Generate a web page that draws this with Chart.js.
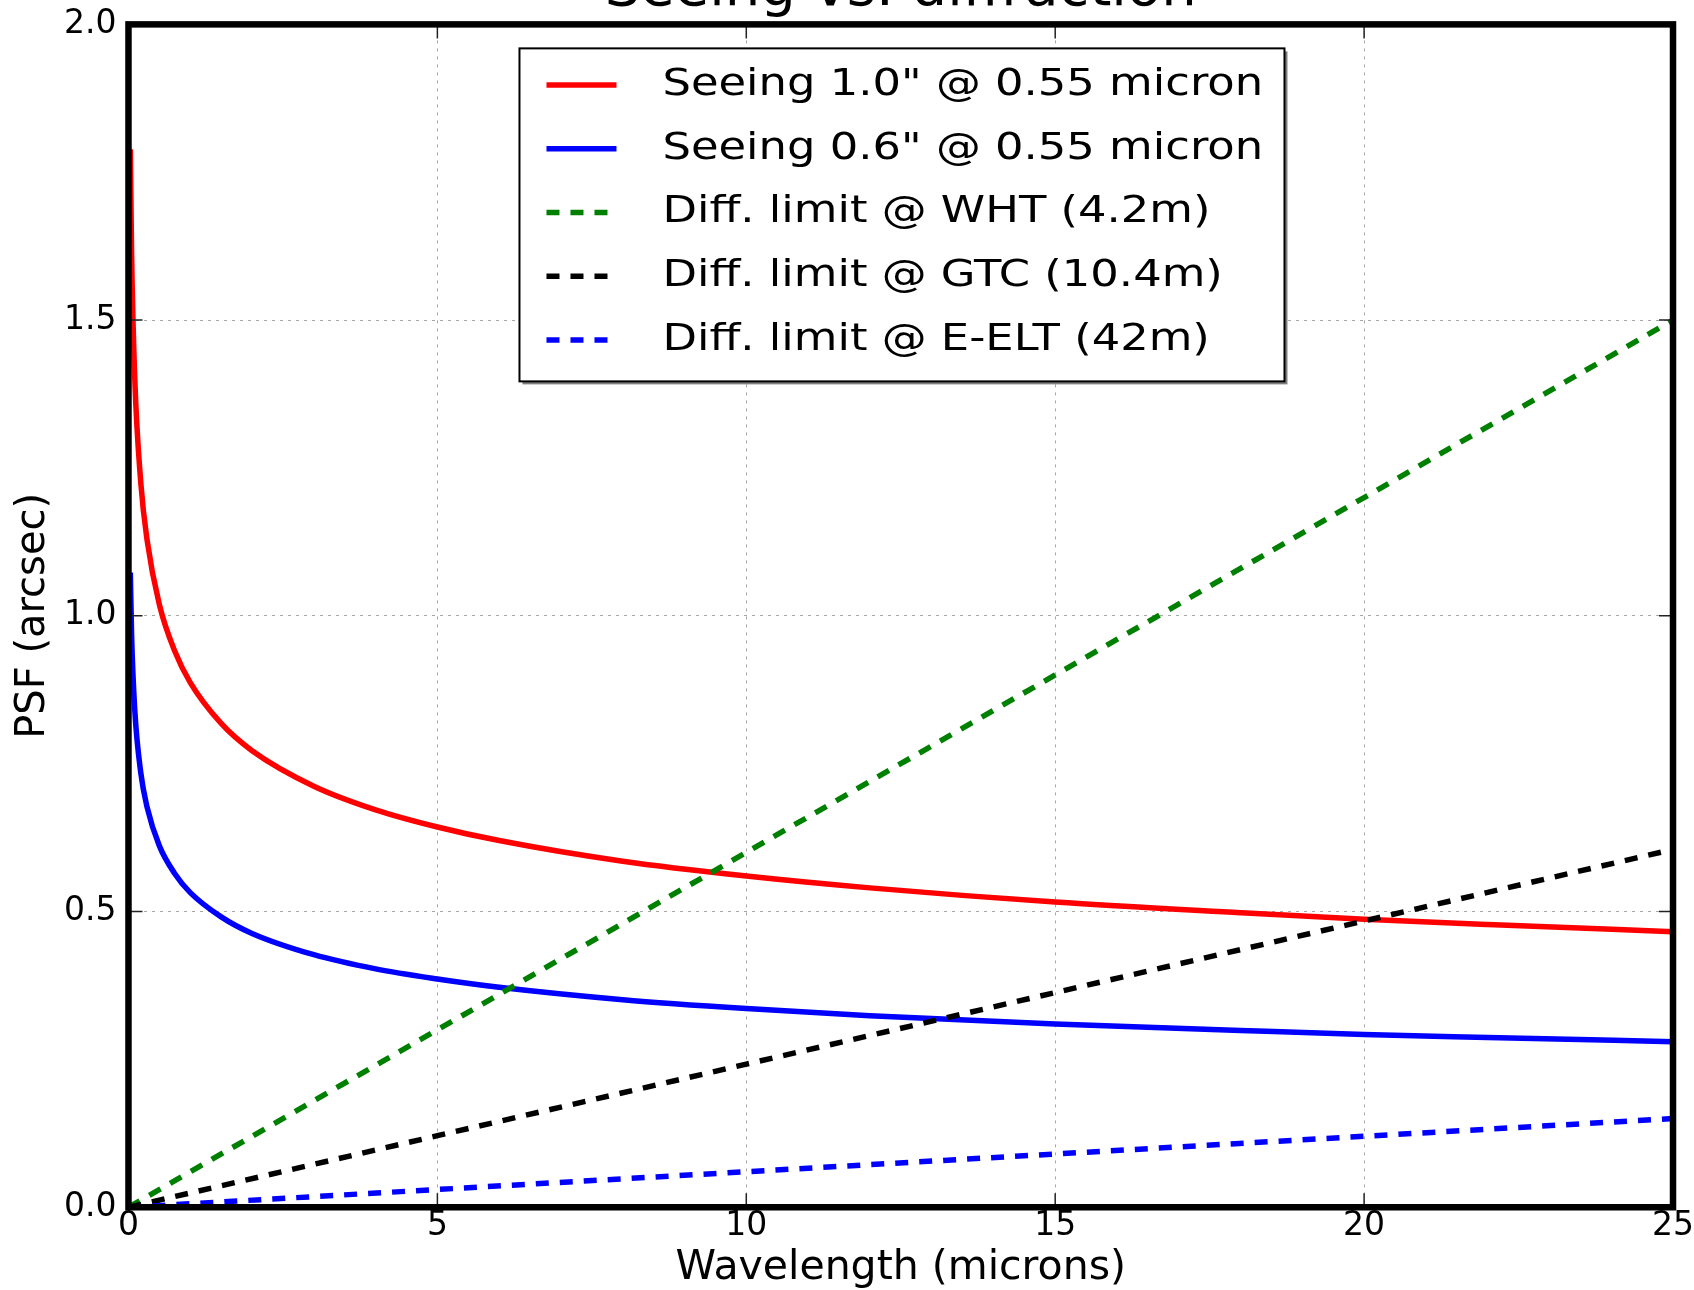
<!DOCTYPE html>
<html lang="en">
<head>
<meta charset="UTF-8">
<title>Seeing vs. diffraction</title>
<style>
  html, body { margin: 0; padding: 0; background: #fff; overflow: hidden; }
  #grafico { display: block; }
</style>
<script src="https://cdn.jsdelivr.net/npm/chart.js"></script>
</head>
<body>
<canvas id="grafico" width="1694" height="1290"></canvas>
<script>
// comprimentos de onda (microns) usados nas curvas de seeing
const wavelengths = [0.03, 0.05, 0.1, 0.2, 0.3, 0.5, 0.75, 1, 1.5, 2, 3, 4, 5, 6, 8, 10, 12, 15, 18, 20, 22, 25];
const seeing10 = [1.789, 1.615, 1.406, 1.224, 1.129, 1.019, 0.940, 0.887, 0.818, 0.772, 0.712, 0.672, 0.643, 0.620, 0.585, 0.560, 0.540, 0.516, 0.498, 0.487, 0.478, 0.466];
const seeing06 = [1.073, 0.969, 0.844, 0.734, 0.677, 0.611, 0.564, 0.532, 0.491, 0.463, 0.427, 0.403, 0.386, 0.372, 0.351, 0.336, 0.324, 0.310, 0.299, 0.292, 0.287, 0.280];

// limites de difracao
const diffWavelengths = [0, 5, 10, 15, 20, 25];
const diffWHT = [0, 0.300, 0.600, 0.900, 1.200, 1.500];
const diffGTC = [0, 0.121, 0.242, 0.363, 0.484, 0.605];
const diffELT = [0, 0.030, 0.060, 0.090, 0.120, 0.150];

const xTicks = [0, 5, 10, 15, 20, 25];
const yTicks = [0.0, 0.5, 1.0, 1.5, 2.0];

function pares(xs, ys) {
    return xs.map((x, i) => ({ x: x, y: ys[i] }));
}

Chart.defaults.font.family = '"DejaVu Sans", sans-serif';
Chart.defaults.color = '#000';

// moldura, ticks internos e legenda no estilo matplotlib
const moldura = {
    id: 'moldura',
    afterDatasetsDraw(chart) {
        const { ctx, chartArea: a, scales } = chart;
        ctx.save();

        ctx.strokeStyle = '#222';
        ctx.lineWidth = 1.5;
        ctx.setLineDash([]);
        scales.x.ticks.forEach(t => {
            const px = scales.x.getPixelForValue(t.value);
            ctx.beginPath();
            ctx.moveTo(px, a.bottom); ctx.lineTo(px, a.bottom - 14);
            ctx.moveTo(px, a.top); ctx.lineTo(px, a.top + 14);
            ctx.stroke();
        });
        scales.y.ticks.forEach(t => {
            const py = scales.y.getPixelForValue(t.value);
            ctx.beginPath();
            ctx.moveTo(a.left, py); ctx.lineTo(a.left + 14, py);
            ctx.moveTo(a.right, py); ctx.lineTo(a.right - 14, py);
            ctx.stroke();
        });

        ctx.strokeStyle = '#000';
        ctx.lineWidth = 6.5;
        ctx.strokeRect(a.left, a.top, a.right - a.left, a.bottom - a.top);

        // legenda
        const lx = a.left + 391, ly = a.top + 24, lw = 765, lh = 333;
        ctx.fillStyle = 'rgba(0,0,0,0.5)';
        ctx.fillRect(lx + 3, ly + 3, lw, lh);
        ctx.fillStyle = '#fff';
        ctx.fillRect(lx, ly, lw, lh);
        ctx.lineWidth = 2;
        ctx.strokeStyle = '#000';
        ctx.strokeRect(lx, ly, lw, lh);

        ctx.font = '38px "DejaVu Sans"';
        ctx.textBaseline = 'middle';
        ctx.textAlign = 'left';
        chart.data.datasets.forEach((ds, i) => {
            const y = ly + 36.5 + i * 63.8;
            ctx.beginPath();
            ctx.setLineDash(ds.borderDash || []);
            ctx.strokeStyle = ds.borderColor;
            ctx.lineWidth = ds.borderWidth;
            ctx.moveTo(lx + 27, y);
            ctx.lineTo(lx + 97, y);
            ctx.stroke();
            ctx.setLineDash([]);
            ctx.fillStyle = '#000';
            ctx.save();
            ctx.translate(lx + 143, y);
            ctx.scale(1.18, 1);
            ctx.fillText(ds.label, 0, 0);
            ctx.restore();
        });

        ctx.restore();
    }
};

const ctx = document.getElementById('grafico').getContext('2d');
const grafico = new Chart(ctx, {
    type: 'line',
    data: {
        datasets: [
            {
                label: 'Seeing 1.0" @ 0.55 micron',
                data: pares(wavelengths, seeing10),
                borderColor: '#ff0000',
                borderWidth: 5.5,
                cubicInterpolationMode: 'monotone',
                order: 5
            },
            {
                label: 'Seeing 0.6" @ 0.55 micron',
                data: pares(wavelengths, seeing06),
                borderColor: '#0000ff',
                borderWidth: 5.5,
                cubicInterpolationMode: 'monotone',
                order: 4
            },
            {
                label: 'Diff. limit @ WHT (4.2m)',
                data: pares(diffWavelengths, diffWHT),
                borderColor: '#008000',
                borderWidth: 5.5,
                borderDash: [13, 11],
                order: 3
            },
            {
                label: 'Diff. limit @ GTC (10.4m)',
                data: pares(diffWavelengths, diffGTC),
                borderColor: '#000000',
                borderWidth: 5.5,
                borderDash: [13, 11],
                order: 2
            },
            {
                label: 'Diff. limit @ E-ELT (42m)',
                data: pares(diffWavelengths, diffELT),
                borderColor: '#0000ff',
                borderWidth: 5.5,
                borderDash: [13, 11],
                order: 1
            }
        ]
    },
    options: {
        responsive: false,
        animation: false,
        layout: { padding: { left: 10, right: 0, top: 0, bottom: 0 } },
        elements: { point: { radius: 0 }, line: { fill: false } },
        plugins: {
            legend: { display: false },
            tooltip: { enabled: false },
            title: {
                display: true,
                fullSize: false,
                text: 'Seeing vs. diffraction',
                font: { size: 56, weight: 'normal' },
                color: '#000',
                padding: { top: -68, bottom: -3 }
            }
        },
        scales: {
            x: {
                type: 'linear',
                min: 0,
                max: 25,
                afterBuildTicks: axis => { axis.ticks = xTicks.map(v => ({ value: v })); },
                ticks: { font: { size: 33, lineHeight: 1.38 }, padding: 0, callback: v => String(v) },
                grid: { color: 'rgba(0,0,0,0.35)', lineWidth: 1, drawTicks: false },
                border: { display: false, dash: [3, 5] },
                title: {
                    display: true,
                    text: 'Wavelength (microns)',
                    font: { size: 41 },
                    padding: { top: -5, bottom: -7 }
                }
            },
            y: {
                type: 'linear',
                min: 0,
                max: 2,
                afterBuildTicks: axis => { axis.ticks = yTicks.map(v => ({ value: v })); },
                ticks: { font: { size: 33, lineHeight: 0.75 }, padding: 12, callback: v => v.toFixed(1) },
                grid: { color: 'rgba(0,0,0,0.35)', lineWidth: 1, drawTicks: false },
                border: { display: false, dash: [3, 5] },
                title: {
                    display: true,
                    text: 'PSF (arcsec)',
                    font: { size: 40 },
                    padding: { top: 0, bottom: -6 }
                }
            }
        }
    },
    plugins: [moldura]
});
</script>
</body>
</html>
